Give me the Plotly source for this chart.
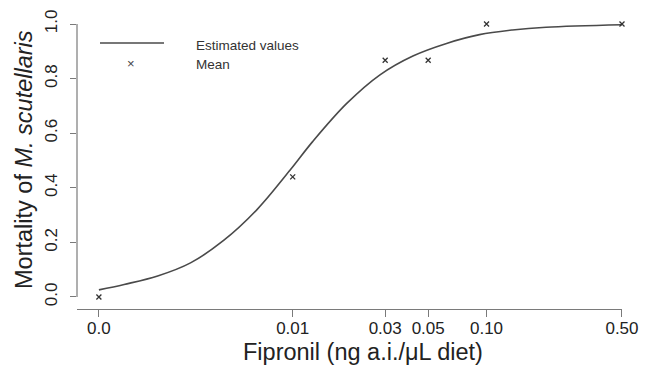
import plotly.graph_objects as go

# Dose levels (ng a.i./uL diet); the control (0.0) is drawn at 0.001 on the log axis
dose_labels = ["0.0", "0.01", "0.03", "0.05", "0.10", "0.50"]
dose_pos = [0.001, 0.01, 0.03, 0.05, 0.10, 0.50]
mean_mortality = [0.0, 0.44, 0.867, 0.867, 1.0, 1.0]

# Estimated (fitted) curve
curve_x = [0.001, 0.00135, 0.00201, 0.00297, 0.0044, 0.00656, 0.0097, 0.0127,
           0.019, 0.0282, 0.0417, 0.0622, 0.092, 0.136, 0.203, 0.5]
curve_y = [0.026, 0.046, 0.077, 0.125, 0.207, 0.321, 0.465, 0.570,
           0.709, 0.814, 0.883, 0.929, 0.961, 0.978, 0.988, 0.997]

y_ticks = [0, 0.2, 0.4, 0.6, 0.8, 1.0]
y_ticklabels = ["0.0", "0.2", "0.4", "0.6", "0.8", "1.0"]

legend_labels = ["Estimated values", "Mean"]
x_title = "Fipronil (ng a.i./μL diet)"
y_title = "Mortality of <i>M. scutellaris</i>"

FONT = "Liberation Sans, Arial, Helvetica, sans-serif"
AXC = "#7a7a7a"
W, H = 646, 367
ML, MR, MT, MB = 77, 24, 18, 58
PW, PH = W - ML - MR, H - MT - MB


def px(x):
    return (x - ML) / PW


def py(y):
    return (H - MB - y) / PH


fig = go.Figure()
fig.add_trace(go.Scatter(
    x=curve_x, y=curve_y, mode="lines", name=legend_labels[0],
    line=dict(color="#4a4a4a", width=1.6, shape="spline", smoothing=1.0),
    showlegend=False,
))
fig.add_trace(go.Scatter(
    x=dose_pos, y=mean_mortality, mode="markers", name=legend_labels[1],
    marker=dict(symbol="x-thin", size=5, color="#333333",
                line=dict(color="#333333", width=1.3)),
    cliponaxis=False, showlegend=False,
))

annotations = [
    dict(xref="paper", yref="paper", x=px(194), y=py(45), text=legend_labels[0],
         showarrow=False, xanchor="left", yanchor="middle",
         font=dict(size=13.5, color="#333333")),
    dict(xref="paper", yref="paper", x=px(194), y=py(64), text=legend_labels[1],
         showarrow=False, xanchor="left", yanchor="middle",
         font=dict(size=13.5, color="#333333")),
    dict(xref="paper", yref="paper", x=px(131), y=py(63), text="×",
         showarrow=False, xanchor="center", yanchor="middle",
         font=dict(size=13, color="#444444")),
    # axis titles
    dict(xref="paper", yref="paper", x=px(363), y=py(352), text=x_title,
         showarrow=False, xanchor="center", yanchor="middle",
         font=dict(size=23.5, color="#222222")),
    dict(xref="paper", yref="paper", x=px(24), y=py(160), text=y_title,
         showarrow=False, xanchor="center", yanchor="middle", textangle=-90,
         font=dict(size=23.5, color="#222222")),
]

shapes = [
    # y-axis line spanning 0..1 only (R style)
    dict(type="line", xref="paper", yref="y", x0=0, x1=0, y0=0, y1=1,
         line=dict(color=AXC, width=1.2)),
    # legend key line
    dict(type="line", xref="paper", yref="paper", x0=px(100), x1=px(164),
         y0=py(43), y1=py(43), line=dict(color="#4a4a4a", width=1.6)),
]

fig.update_layout(
    width=W, height=H,
    margin=dict(l=ML, r=MR, t=MT, b=MB),
    paper_bgcolor="white", plot_bgcolor="white",
    font=dict(family=FONT, color="#222222"),
    showlegend=False,
    xaxis=dict(
        type="log", range=[-3.113, -0.301], automargin=False,
        tickvals=dose_pos, ticktext=dose_labels,
        showline=True, linecolor=AXC, linewidth=1.2,
        ticks="outside", ticklen=7, tickcolor=AXC, tickwidth=1.2,
        ticklabelstandoff=-4,
        showgrid=False, zeroline=False,
        tickfont=dict(size=17, color="#222222"),
    ),
    yaxis=dict(
        range=[-0.044, 1.022], automargin=False,
        tickvals=y_ticks, ticktext=y_ticklabels,
        showline=False, ticks="outside", ticklen=6, tickcolor=AXC, tickwidth=1.2,
        ticklabelstandoff=6,
        showgrid=False, zeroline=False, tickangle=-90,
        tickfont=dict(size=17, color="#222222"),
    ),
    shapes=shapes,
    annotations=annotations,
)

fig.write_html("out.html", config={"displayModeBar": False},
               post_script="document.body.style.margin='0px';")
